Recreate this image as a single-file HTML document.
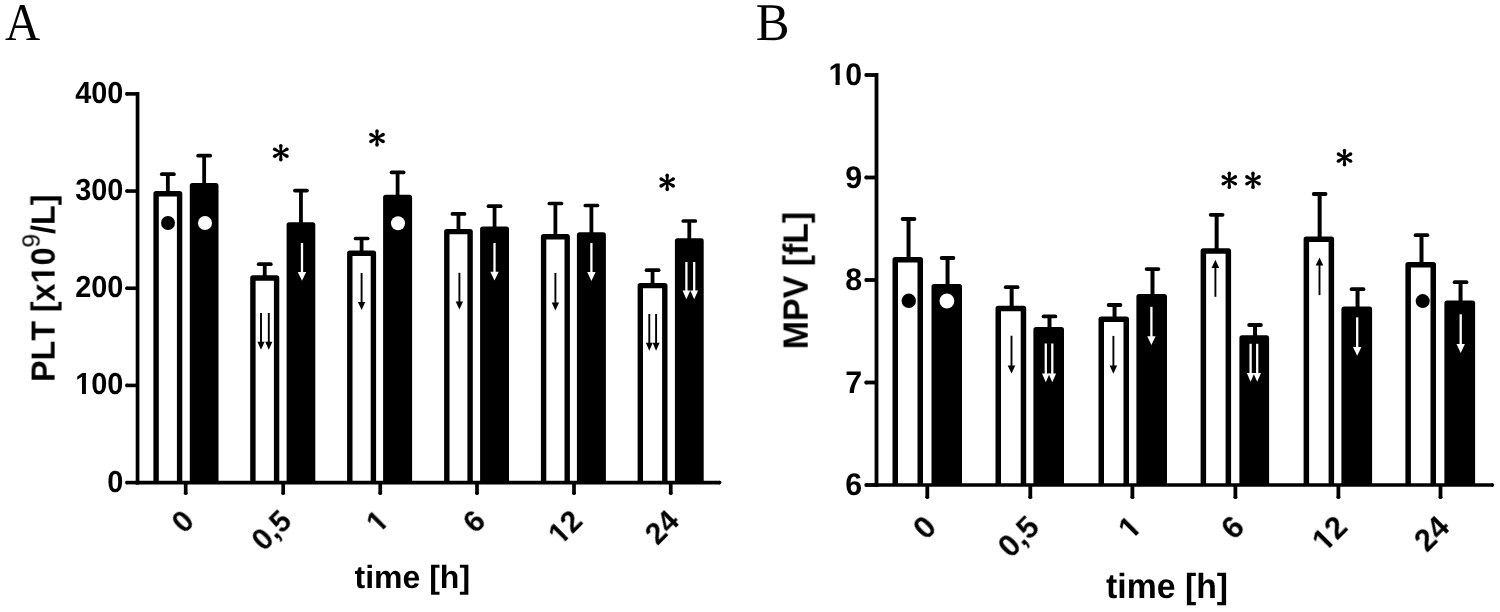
<!DOCTYPE html>
<html><head><meta charset="utf-8"><title>PLT and MPV over time</title><style>
html,body{margin:0;padding:0;background:#fff;width:1500px;height:612px;overflow:hidden}
svg{display:block}
text{text-rendering:geometricPrecision}
svg g{will-change:transform}
</style></head><body>
<svg width="1500" height="612" viewBox="0 0 1500 612">
<rect width="1500" height="612" fill="#fff"/>
<line x1="167.85" y1="174.2" x2="167.85" y2="192" stroke="#000" stroke-width="3.8" stroke-linecap="butt"/>
<line x1="161.8" y1="174.2" x2="173.9" y2="174.2" stroke="#000" stroke-width="3.7" stroke-linecap="round"/>
<path d="M156.1 482.6L156.1 193.7L179.6 193.7L179.6 482.6" fill="#fff" stroke="#000" stroke-width="5.4" stroke-linejoin="round"/>
<line x1="204.15" y1="155.7" x2="204.15" y2="184" stroke="#000" stroke-width="3.8" stroke-linecap="butt"/>
<line x1="198.1" y1="155.7" x2="210.2" y2="155.7" stroke="#000" stroke-width="3.7" stroke-linecap="round"/>
<rect x="189.8" y="183" width="28.7" height="300.6" fill="#000" rx="2.6"/>
<line x1="264.75" y1="264.2" x2="264.75" y2="276.3" stroke="#000" stroke-width="3.8" stroke-linecap="butt"/>
<line x1="258.7" y1="264.2" x2="270.8" y2="264.2" stroke="#000" stroke-width="3.7" stroke-linecap="round"/>
<path d="M252.9 482.6L252.9 278L276.6 278L276.6 482.6" fill="#fff" stroke="#000" stroke-width="5.4" stroke-linejoin="round"/>
<line x1="300.95" y1="190.6" x2="300.95" y2="223.3" stroke="#000" stroke-width="3.8" stroke-linecap="butt"/>
<line x1="294.9" y1="190.6" x2="307" y2="190.6" stroke="#000" stroke-width="3.7" stroke-linecap="round"/>
<rect x="286.6" y="222.3" width="28.7" height="261.3" fill="#000" rx="2.6"/>
<line x1="361.6" y1="238.5" x2="361.6" y2="251.6" stroke="#000" stroke-width="3.8" stroke-linecap="butt"/>
<line x1="355.55" y1="238.5" x2="367.65" y2="238.5" stroke="#000" stroke-width="3.7" stroke-linecap="round"/>
<path d="M349.8 482.6L349.8 253.3L373.4 253.3L373.4 482.6" fill="#fff" stroke="#000" stroke-width="5.4" stroke-linejoin="round"/>
<line x1="397.6" y1="172.3" x2="397.6" y2="195.8" stroke="#000" stroke-width="3.8" stroke-linecap="butt"/>
<line x1="391.55" y1="172.3" x2="403.65" y2="172.3" stroke="#000" stroke-width="3.7" stroke-linecap="round"/>
<rect x="383.1" y="194.8" width="29" height="288.8" fill="#000" rx="2.6"/>
<line x1="458.45" y1="213.9" x2="458.45" y2="229.9" stroke="#000" stroke-width="3.8" stroke-linecap="butt"/>
<line x1="452.4" y1="213.9" x2="464.5" y2="213.9" stroke="#000" stroke-width="3.7" stroke-linecap="round"/>
<path d="M446.8 482.6L446.8 231.6L470.1 231.6L470.1 482.6" fill="#fff" stroke="#000" stroke-width="5.4" stroke-linejoin="round"/>
<line x1="494.55" y1="206.2" x2="494.55" y2="227.5" stroke="#000" stroke-width="3.8" stroke-linecap="butt"/>
<line x1="488.5" y1="206.2" x2="500.6" y2="206.2" stroke="#000" stroke-width="3.7" stroke-linecap="round"/>
<rect x="480.1" y="226.5" width="28.9" height="257.1" fill="#000" rx="2.6"/>
<line x1="555.4" y1="203.5" x2="555.4" y2="235" stroke="#000" stroke-width="3.8" stroke-linecap="butt"/>
<line x1="549.35" y1="203.5" x2="561.45" y2="203.5" stroke="#000" stroke-width="3.7" stroke-linecap="round"/>
<path d="M543.6 482.6L543.6 236.7L567.2 236.7L567.2 482.6" fill="#fff" stroke="#000" stroke-width="5.4" stroke-linejoin="round"/>
<line x1="591.4" y1="205.5" x2="591.4" y2="233.2" stroke="#000" stroke-width="3.8" stroke-linecap="butt"/>
<line x1="585.35" y1="205.5" x2="597.45" y2="205.5" stroke="#000" stroke-width="3.7" stroke-linecap="round"/>
<rect x="576.9" y="232.2" width="29" height="251.4" fill="#000" rx="2.6"/>
<line x1="652.55" y1="270.2" x2="652.55" y2="283.9" stroke="#000" stroke-width="3.8" stroke-linecap="butt"/>
<line x1="646.5" y1="270.2" x2="658.6" y2="270.2" stroke="#000" stroke-width="3.7" stroke-linecap="round"/>
<path d="M640.3 482.6L640.3 285.6L664.8 285.6L664.8 482.6" fill="#fff" stroke="#000" stroke-width="5.4" stroke-linejoin="round"/>
<line x1="689.3" y1="221" x2="689.3" y2="239.3" stroke="#000" stroke-width="3.8" stroke-linecap="butt"/>
<line x1="683.25" y1="221" x2="695.35" y2="221" stroke="#000" stroke-width="3.7" stroke-linecap="round"/>
<rect x="674.9" y="238.3" width="28.8" height="245.3" fill="#000" rx="2.6"/>
<line x1="137.55" y1="92" x2="137.55" y2="484.4" stroke="#000" stroke-width="3.7" stroke-linecap="butt"/>
<line x1="135.7" y1="482.6" x2="720.2" y2="482.6" stroke="#000" stroke-width="3.6" stroke-linecap="butt"/>
<circle cx="719.65" cy="482.6" r="1.8" fill="#000"/>
<line x1="185.7" y1="482.6" x2="185.7" y2="493.8" stroke="#000" stroke-width="3.7" stroke-linecap="butt"/>
<circle cx="185.7" cy="493.15" r="1.85" fill="#000"/>
<line x1="283.2" y1="482.6" x2="283.2" y2="493.8" stroke="#000" stroke-width="3.7" stroke-linecap="butt"/>
<circle cx="283.2" cy="493.15" r="1.85" fill="#000"/>
<line x1="380.25" y1="482.6" x2="380.25" y2="493.8" stroke="#000" stroke-width="3.7" stroke-linecap="butt"/>
<circle cx="380.25" cy="493.15" r="1.85" fill="#000"/>
<line x1="477" y1="482.6" x2="477" y2="493.8" stroke="#000" stroke-width="3.7" stroke-linecap="butt"/>
<circle cx="477" cy="493.15" r="1.85" fill="#000"/>
<line x1="574" y1="482.6" x2="574" y2="493.8" stroke="#000" stroke-width="3.7" stroke-linecap="butt"/>
<circle cx="574" cy="493.15" r="1.85" fill="#000"/>
<line x1="670.75" y1="482.6" x2="670.75" y2="493.8" stroke="#000" stroke-width="3.7" stroke-linecap="butt"/>
<circle cx="670.75" cy="493.15" r="1.85" fill="#000"/>
<line x1="126.5" y1="482.6" x2="137.55" y2="482.6" stroke="#000" stroke-width="3.6" stroke-linecap="butt"/>
<circle cx="126.8" cy="482.6" r="1.8" fill="#000"/>
<g transform="translate(123.4,491.5) scale(0.95,1)"><text x="-16.91" y="0" style="font-family:&quot;Liberation Sans&quot;" font-size="30.4" font-weight="bold">0</text></g>
<line x1="126.5" y1="385.42" x2="137.55" y2="385.42" stroke="#000" stroke-width="3.6" stroke-linecap="butt"/>
<circle cx="126.8" cy="385.42" r="1.8" fill="#000"/>
<g transform="translate(123.4,394.32) scale(0.95,1)"><text x="-50.72 -33.81 -16.91" y="0" style="font-family:&quot;Liberation Sans&quot;" font-size="30.4" font-weight="bold">100</text><rect x="-50.28" y="-4.3" width="6.65" height="6.09" fill="#fff"/><rect x="-39.45" y="-4.3" width="5.79" height="6.09" fill="#fff"/><rect x="-43.63" y="0.15" width="4.17" height="1.63" fill="#fff"/></g>
<line x1="126.5" y1="288.24" x2="137.55" y2="288.24" stroke="#000" stroke-width="3.6" stroke-linecap="butt"/>
<circle cx="126.8" cy="288.24" r="1.8" fill="#000"/>
<g transform="translate(123.4,297.14) scale(0.95,1)"><text x="-50.72 -33.81 -16.91" y="0" style="font-family:&quot;Liberation Sans&quot;" font-size="30.4" font-weight="bold">200</text></g>
<line x1="126.5" y1="191.06" x2="137.55" y2="191.06" stroke="#000" stroke-width="3.6" stroke-linecap="butt"/>
<circle cx="126.8" cy="191.06" r="1.8" fill="#000"/>
<g transform="translate(123.4,199.96) scale(0.95,1)"><text x="-50.72 -33.81 -16.91" y="0" style="font-family:&quot;Liberation Sans&quot;" font-size="30.4" font-weight="bold">300</text></g>
<line x1="126.5" y1="93.88" x2="137.55" y2="93.88" stroke="#000" stroke-width="3.6" stroke-linecap="butt"/>
<circle cx="126.8" cy="93.88" r="1.8" fill="#000"/>
<g transform="translate(123.4,102.78) scale(0.95,1)"><text x="-50.72 -33.81 -16.91" y="0" style="font-family:&quot;Liberation Sans&quot;" font-size="30.4" font-weight="bold">400</text></g>
<circle cx="168" cy="223" r="7" fill="#000"/>
<circle cx="205" cy="223" r="7" fill="#fff"/>
<circle cx="398" cy="223.3" r="7" fill="#fff"/>
<line x1="261" y1="313" x2="261" y2="342.2" stroke="#000" stroke-width="1.9" stroke-linecap="butt"/>
<path d="M257.4 341.7L264.6 341.7L261 349.7Z" fill="#000"/>
<line x1="268.8" y1="313" x2="268.8" y2="342.2" stroke="#000" stroke-width="1.9" stroke-linecap="butt"/>
<path d="M265.2 341.7L272.4 341.7L268.8 349.7Z" fill="#000"/>
<line x1="302" y1="243" x2="302" y2="272.5" stroke="#fff" stroke-width="2.3" stroke-linecap="butt"/>
<path d="M297.8 272L306.2 272L302 280.8Z" fill="#fff"/>
<line x1="361.6" y1="273" x2="361.6" y2="302.5" stroke="#000" stroke-width="1.9" stroke-linecap="butt"/>
<path d="M357.9 302L365.3 302L361.6 310Z" fill="#000"/>
<line x1="459.4" y1="272.8" x2="459.4" y2="302.1" stroke="#000" stroke-width="1.9" stroke-linecap="butt"/>
<path d="M455.7 301.6L463.1 301.6L459.4 309.6Z" fill="#000"/>
<line x1="494.5" y1="243" x2="494.5" y2="272.2" stroke="#fff" stroke-width="2.3" stroke-linecap="butt"/>
<path d="M490.3 271.7L498.7 271.7L494.5 280.5Z" fill="#fff"/>
<line x1="555.4" y1="273" x2="555.4" y2="302.9" stroke="#000" stroke-width="1.9" stroke-linecap="butt"/>
<path d="M551.7 302.4L559.1 302.4L555.4 310.4Z" fill="#000"/>
<line x1="591.4" y1="243" x2="591.4" y2="272.6" stroke="#fff" stroke-width="2.3" stroke-linecap="butt"/>
<path d="M587.2 272.1L595.6 272.1L591.4 280.9Z" fill="#fff"/>
<line x1="649.3" y1="314" x2="649.3" y2="343.3" stroke="#000" stroke-width="1.9" stroke-linecap="butt"/>
<path d="M645.8 342.8L652.8 342.8L649.3 350.8Z" fill="#000"/>
<line x1="656.1" y1="314" x2="656.1" y2="343.3" stroke="#000" stroke-width="1.9" stroke-linecap="butt"/>
<path d="M652.6 342.8L659.6 342.8L656.1 350.8Z" fill="#000"/>
<line x1="686.4" y1="262" x2="686.4" y2="291.1" stroke="#fff" stroke-width="2.3" stroke-linecap="butt"/>
<path d="M682.5 290.6L690.3 290.6L686.4 299.2Z" fill="#fff"/>
<line x1="694.2" y1="262" x2="694.2" y2="291.1" stroke="#fff" stroke-width="2.3" stroke-linecap="butt"/>
<path d="M690.3 290.6L698.1 290.6L694.2 299.2Z" fill="#fff"/>
<g fill="#000"><path d="M281.75 152.7L282.5 145.6L279.1 145.6L279.85 152.7ZM281.28 153.52L287.8 150.62L286.1 147.68L280.32 151.88ZM280.32 153.52L286.1 157.72L287.8 154.78L281.28 151.88ZM281.28 151.88L275.5 147.68L273.8 150.62L280.32 153.52ZM280.32 151.88L273.8 154.78L275.5 157.72L281.28 153.52ZM279.85 152.7L279.1 159.8L282.5 159.8L281.75 152.7Z"/><circle cx="280.8" cy="145.6" r="1.7"/><circle cx="286.95" cy="149.15" r="1.7"/><circle cx="286.95" cy="156.25" r="1.7"/><circle cx="274.65" cy="149.15" r="1.7"/><circle cx="274.65" cy="156.25" r="1.7"/><circle cx="280.8" cy="159.8" r="1.7"/></g>
<g fill="#000"><path d="M377.95 138L378.7 130.9L375.3 130.9L376.05 138ZM377.48 138.82L384 135.92L382.3 132.98L376.52 137.18ZM376.52 138.82L382.3 143.02L384 140.08L377.48 137.18ZM377.48 137.18L371.7 132.98L370 135.92L376.52 138.82ZM376.52 137.18L370 140.08L371.7 143.02L377.48 138.82ZM376.05 138L375.3 145.1L378.7 145.1L377.95 138Z"/><circle cx="377" cy="130.9" r="1.7"/><circle cx="383.15" cy="134.45" r="1.7"/><circle cx="383.15" cy="141.55" r="1.7"/><circle cx="370.85" cy="134.45" r="1.7"/><circle cx="370.85" cy="141.55" r="1.7"/><circle cx="377" cy="145.1" r="1.7"/></g>
<g fill="#000"><path d="M668.15 182.4L668.9 175.3L665.5 175.3L666.25 182.4ZM667.68 183.22L674.2 180.32L672.5 177.38L666.73 181.58ZM666.73 183.22L672.5 187.42L674.2 184.48L667.68 181.58ZM667.68 181.58L661.9 177.38L660.2 180.32L666.73 183.22ZM666.73 181.58L660.2 184.48L661.9 187.42L667.68 183.22ZM666.25 182.4L665.5 189.5L668.9 189.5L668.15 182.4Z"/><circle cx="667.2" cy="175.3" r="1.7"/><circle cx="673.35" cy="178.85" r="1.7"/><circle cx="673.35" cy="185.95" r="1.7"/><circle cx="661.05" cy="178.85" r="1.7"/><circle cx="661.05" cy="185.95" r="1.7"/><circle cx="667.2" cy="189.5" r="1.7"/></g>
<g transform="translate(181,507.8) rotate(-45) translate(0,21)"><text x="-16.68" y="0" style="font-family:&quot;Liberation Sans&quot;" font-size="30" font-weight="bold">0</text></g>
<g transform="translate(278.5,507.8) rotate(-45) translate(0,21)"><text x="-41.7 -25.02 -16.68" y="0" style="font-family:&quot;Liberation Sans&quot;" font-size="30" font-weight="bold">0,5</text></g>
<g transform="translate(375.55,507.8) rotate(-45) translate(0,21)"><text x="-16.68" y="0" style="font-family:&quot;Liberation Sans&quot;" font-size="30" font-weight="bold">1</text><rect x="-16.25" y="-4.25" width="6.56" height="6.01" fill="#fff"/><rect x="-5.57" y="-4.25" width="5.71" height="6.01" fill="#fff"/><rect x="-9.68" y="0.15" width="4.12" height="1.61" fill="#fff"/></g>
<g transform="translate(472.3,507.8) rotate(-45) translate(0,21)"><text x="-16.68" y="0" style="font-family:&quot;Liberation Sans&quot;" font-size="30" font-weight="bold">6</text></g>
<g transform="translate(569.3,507.8) rotate(-45) translate(0,21)"><text x="-33.37 -16.68" y="0" style="font-family:&quot;Liberation Sans&quot;" font-size="30" font-weight="bold">12</text><rect x="-32.93" y="-4.25" width="6.56" height="6.01" fill="#fff"/><rect x="-22.25" y="-4.25" width="5.71" height="6.01" fill="#fff"/><rect x="-26.37" y="0.15" width="4.12" height="1.61" fill="#fff"/></g>
<g transform="translate(666.05,507.8) rotate(-45) translate(0,21)"><text x="-33.37 -16.68" y="0" style="font-family:&quot;Liberation Sans&quot;" font-size="30" font-weight="bold">24</text></g>
<g transform="translate(354.5,588.1)"><text x="0 10.66 19.55 48 65.8 74.69 85.34 104.89" y="0" style="font-family:&quot;Liberation Sans&quot;" font-size="32" font-weight="bold">time [h]</text></g>
<g transform="translate(54.6,381.9) rotate(-90) translate(0,0) scale(0.96,1)"><text x="0 22.41 42.94 63.46 72.79 83.98 102.67 121.36" y="0" style="font-family:&quot;Liberation Sans&quot;" font-size="33.6" font-weight="bold">PLT [x10</text><rect x="103.16" y="-4.76" width="7.35" height="6.73" fill="#fff"/><rect x="115.12" y="-4.76" width="6.4" height="6.73" fill="#fff"/><rect x="110.51" y="0.16" width="4.61" height="1.8" fill="#fff"/></g>
<g transform="translate(54.6,381.9) rotate(-90) translate(134.3,-15.1)"><text x="0" y="0" style="font-family:&quot;Liberation Sans&quot;" font-size="24.7" font-weight="normal">9</text></g>
<g transform="translate(54.6,381.9) rotate(-90) translate(147.9,0) scale(0.96,1)"><text x="0 9.34 29.86" y="0" style="font-family:&quot;Liberation Sans&quot;" font-size="33.6" font-weight="bold">/L]</text></g>
<g transform="translate(4.9,39.7) scale(0.92,1)"><text x="0" y="0" style="font-family:&quot;Liberation Serif&quot;" font-size="53" font-weight="normal">A</text></g>
<g transform="translate(755.7,39.5) scale(0.955,1)"><text x="0" y="0" style="font-family:&quot;Liberation Serif&quot;" font-size="53" font-weight="normal">B</text></g>
<line x1="908.55" y1="219" x2="908.55" y2="257.9" stroke="#000" stroke-width="4" stroke-linecap="butt"/>
<line x1="902.65" y1="219" x2="914.45" y2="219" stroke="#000" stroke-width="3.8" stroke-linecap="round"/>
<path d="M895.25 485L895.25 259.65L920.25 259.65L920.25 485" fill="#fff" stroke="#000" stroke-width="5.5" stroke-linejoin="round"/>
<line x1="947.55" y1="258" x2="947.55" y2="284.9" stroke="#000" stroke-width="4" stroke-linecap="butt"/>
<line x1="941.65" y1="258" x2="953.45" y2="258" stroke="#000" stroke-width="3.8" stroke-linecap="round"/>
<rect x="931.5" y="283.9" width="30.5" height="202.1" fill="#000" rx="2.6"/>
<line x1="1011.65" y1="287.2" x2="1011.65" y2="306.7" stroke="#000" stroke-width="4" stroke-linecap="butt"/>
<line x1="1005.75" y1="287.2" x2="1017.55" y2="287.2" stroke="#000" stroke-width="3.8" stroke-linecap="round"/>
<path d="M998.25 485L998.25 308.45L1023.45 308.45L1023.45 485" fill="#fff" stroke="#000" stroke-width="5.5" stroke-linejoin="round"/>
<line x1="1049.5" y1="316.4" x2="1049.5" y2="327.9" stroke="#000" stroke-width="4" stroke-linecap="butt"/>
<line x1="1043.6" y1="316.4" x2="1055.4" y2="316.4" stroke="#000" stroke-width="3.8" stroke-linecap="round"/>
<rect x="1033.4" y="326.9" width="30.6" height="159.1" fill="#000" rx="2.6"/>
<line x1="1114.55" y1="305" x2="1114.55" y2="317.4" stroke="#000" stroke-width="4" stroke-linecap="butt"/>
<line x1="1108.65" y1="305" x2="1120.45" y2="305" stroke="#000" stroke-width="3.8" stroke-linecap="round"/>
<path d="M1101.25 485L1101.25 319.15L1126.25 319.15L1126.25 485" fill="#fff" stroke="#000" stroke-width="5.5" stroke-linejoin="round"/>
<line x1="1152.5" y1="269.1" x2="1152.5" y2="295" stroke="#000" stroke-width="4" stroke-linecap="butt"/>
<line x1="1146.6" y1="269.1" x2="1158.4" y2="269.1" stroke="#000" stroke-width="3.8" stroke-linecap="round"/>
<rect x="1136.4" y="294" width="30.6" height="192" fill="#000" rx="2.6"/>
<line x1="1216.65" y1="214.8" x2="1216.65" y2="249.3" stroke="#000" stroke-width="4" stroke-linecap="butt"/>
<line x1="1210.75" y1="214.8" x2="1222.55" y2="214.8" stroke="#000" stroke-width="3.8" stroke-linecap="round"/>
<path d="M1203.35 485L1203.35 251.05L1228.35 251.05L1228.35 485" fill="#fff" stroke="#000" stroke-width="5.5" stroke-linejoin="round"/>
<line x1="1255.05" y1="325" x2="1255.05" y2="336.3" stroke="#000" stroke-width="4" stroke-linecap="butt"/>
<line x1="1249.15" y1="325" x2="1260.95" y2="325" stroke="#000" stroke-width="3.8" stroke-linecap="round"/>
<rect x="1239.4" y="335.3" width="29.7" height="150.7" fill="#000" rx="2.6"/>
<line x1="1319.65" y1="194" x2="1319.65" y2="237.4" stroke="#000" stroke-width="4" stroke-linecap="butt"/>
<line x1="1313.75" y1="194" x2="1325.55" y2="194" stroke="#000" stroke-width="3.8" stroke-linecap="round"/>
<path d="M1306.35 485L1306.35 239.15L1331.35 239.15L1331.35 485" fill="#fff" stroke="#000" stroke-width="5.5" stroke-linejoin="round"/>
<line x1="1357.55" y1="289.2" x2="1357.55" y2="307.6" stroke="#000" stroke-width="4" stroke-linecap="butt"/>
<line x1="1351.65" y1="289.2" x2="1363.45" y2="289.2" stroke="#000" stroke-width="3.8" stroke-linecap="round"/>
<rect x="1341.4" y="306.6" width="30.7" height="179.4" fill="#000" rx="2.6"/>
<line x1="1421.5" y1="235.2" x2="1421.5" y2="262.9" stroke="#000" stroke-width="4" stroke-linecap="butt"/>
<line x1="1415.6" y1="235.2" x2="1427.4" y2="235.2" stroke="#000" stroke-width="3.8" stroke-linecap="round"/>
<path d="M1408.15 485L1408.15 264.65L1433.25 264.65L1433.25 485" fill="#fff" stroke="#000" stroke-width="5.5" stroke-linejoin="round"/>
<line x1="1460.55" y1="282.2" x2="1460.55" y2="301.6" stroke="#000" stroke-width="4" stroke-linecap="butt"/>
<line x1="1454.65" y1="282.2" x2="1466.45" y2="282.2" stroke="#000" stroke-width="3.8" stroke-linecap="round"/>
<rect x="1444.4" y="300.6" width="30.7" height="185.4" fill="#000" rx="2.6"/>
<line x1="876.5" y1="73.1" x2="876.5" y2="486.8" stroke="#000" stroke-width="3.8" stroke-linecap="butt"/>
<line x1="874.6" y1="485" x2="1493" y2="485" stroke="#000" stroke-width="3.6" stroke-linecap="butt"/>
<circle cx="1492.45" cy="485" r="1.8" fill="#000"/>
<line x1="927.3" y1="485" x2="927.3" y2="497.8" stroke="#000" stroke-width="3.8" stroke-linecap="butt"/>
<circle cx="927.3" cy="497.15" r="1.9" fill="#000"/>
<line x1="1030.3" y1="485" x2="1030.3" y2="497.8" stroke="#000" stroke-width="3.8" stroke-linecap="butt"/>
<circle cx="1030.3" cy="497.15" r="1.9" fill="#000"/>
<line x1="1132.4" y1="485" x2="1132.4" y2="497.8" stroke="#000" stroke-width="3.8" stroke-linecap="butt"/>
<circle cx="1132.4" cy="497.15" r="1.9" fill="#000"/>
<line x1="1235.4" y1="485" x2="1235.4" y2="497.8" stroke="#000" stroke-width="3.8" stroke-linecap="butt"/>
<circle cx="1235.4" cy="497.15" r="1.9" fill="#000"/>
<line x1="1338.4" y1="485" x2="1338.4" y2="497.8" stroke="#000" stroke-width="3.8" stroke-linecap="butt"/>
<circle cx="1338.4" cy="497.15" r="1.9" fill="#000"/>
<line x1="1440.5" y1="485" x2="1440.5" y2="497.8" stroke="#000" stroke-width="3.8" stroke-linecap="butt"/>
<circle cx="1440.5" cy="497.15" r="1.9" fill="#000"/>
<line x1="865.8" y1="485" x2="876.5" y2="485" stroke="#000" stroke-width="3.8" stroke-linecap="butt"/>
<circle cx="866.2" cy="485" r="1.9" fill="#000"/>
<g transform="translate(862.2,495) scale(0.97,1)"><text x="-17.41" y="0" style="font-family:&quot;Liberation Sans&quot;" font-size="31.3" font-weight="bold">6</text></g>
<line x1="865.8" y1="382.5" x2="876.5" y2="382.5" stroke="#000" stroke-width="3.8" stroke-linecap="butt"/>
<circle cx="866.2" cy="382.5" r="1.9" fill="#000"/>
<g transform="translate(862.2,392.5) scale(0.97,1)"><text x="-17.41" y="0" style="font-family:&quot;Liberation Sans&quot;" font-size="31.3" font-weight="bold">7</text></g>
<line x1="865.8" y1="280" x2="876.5" y2="280" stroke="#000" stroke-width="3.8" stroke-linecap="butt"/>
<circle cx="866.2" cy="280" r="1.9" fill="#000"/>
<g transform="translate(862.2,290) scale(0.97,1)"><text x="-17.41" y="0" style="font-family:&quot;Liberation Sans&quot;" font-size="31.3" font-weight="bold">8</text></g>
<line x1="865.8" y1="177.5" x2="876.5" y2="177.5" stroke="#000" stroke-width="3.8" stroke-linecap="butt"/>
<circle cx="866.2" cy="177.5" r="1.9" fill="#000"/>
<g transform="translate(862.2,187.5) scale(0.97,1)"><text x="-17.41" y="0" style="font-family:&quot;Liberation Sans&quot;" font-size="31.3" font-weight="bold">9</text></g>
<line x1="865.8" y1="75" x2="876.5" y2="75" stroke="#000" stroke-width="3.8" stroke-linecap="butt"/>
<circle cx="866.2" cy="75" r="1.9" fill="#000"/>
<g transform="translate(862.2,85) scale(0.97,1)"><text x="-34.82 -17.41" y="0" style="font-family:&quot;Liberation Sans&quot;" font-size="31.3" font-weight="bold">10</text><rect x="-34.36" y="-4.43" width="6.85" height="6.27" fill="#fff"/><rect x="-23.22" y="-4.43" width="5.96" height="6.27" fill="#fff"/><rect x="-27.51" y="0.15" width="4.29" height="1.68" fill="#fff"/></g>
<circle cx="908.8" cy="300.8" r="7.2" fill="#000"/>
<circle cx="946.9" cy="301" r="7.4" fill="#fff"/>
<circle cx="1422.7" cy="301.1" r="7" fill="#000"/>
<line x1="1011.5" y1="335.7" x2="1011.5" y2="365.9" stroke="#000" stroke-width="1.9" stroke-linecap="butt"/>
<path d="M1007.7 365.4L1015.3 365.4L1011.5 373.6Z" fill="#000"/>
<line x1="1045.8" y1="343.5" x2="1045.8" y2="373.9" stroke="#fff" stroke-width="2.3" stroke-linecap="butt"/>
<path d="M1042 373.4L1049.6 373.4L1045.8 382.2Z" fill="#fff"/>
<line x1="1052.3" y1="343.5" x2="1052.3" y2="373.9" stroke="#fff" stroke-width="2.3" stroke-linecap="butt"/>
<path d="M1048.5 373.4L1056.1 373.4L1052.3 382.2Z" fill="#fff"/>
<line x1="1113.4" y1="335.9" x2="1113.4" y2="366.1" stroke="#000" stroke-width="1.9" stroke-linecap="butt"/>
<path d="M1109.6 365.6L1117.2 365.6L1113.4 373.8Z" fill="#000"/>
<line x1="1151.4" y1="306.8" x2="1151.4" y2="336.8" stroke="#fff" stroke-width="2.3" stroke-linecap="butt"/>
<path d="M1147.2 336.3L1155.6 336.3L1151.4 345.1Z" fill="#fff"/>
<line x1="1215.4" y1="267.4" x2="1215.4" y2="296.8" stroke="#000" stroke-width="1.9" stroke-linecap="butt"/>
<path d="M1211.6 267.9L1219.2 267.9L1215.4 259.7Z" fill="#000"/>
<line x1="1250.6" y1="343.8" x2="1250.6" y2="373.4" stroke="#fff" stroke-width="2.3" stroke-linecap="butt"/>
<path d="M1246.8 372.9L1254.4 372.9L1250.6 381.7Z" fill="#fff"/>
<line x1="1257.2" y1="343.8" x2="1257.2" y2="373.4" stroke="#fff" stroke-width="2.3" stroke-linecap="butt"/>
<path d="M1253.4 372.9L1261 372.9L1257.2 381.7Z" fill="#fff"/>
<line x1="1319.5" y1="265.1" x2="1319.5" y2="295.1" stroke="#000" stroke-width="1.9" stroke-linecap="butt"/>
<path d="M1315.7 265.6L1323.3 265.6L1319.5 257.4Z" fill="#000"/>
<line x1="1357.2" y1="317.3" x2="1357.2" y2="347.5" stroke="#fff" stroke-width="2.3" stroke-linecap="butt"/>
<path d="M1353 347L1361.4 347L1357.2 355.8Z" fill="#fff"/>
<line x1="1460.7" y1="314.3" x2="1460.7" y2="344.6" stroke="#fff" stroke-width="2.3" stroke-linecap="butt"/>
<path d="M1456.5 344.1L1464.9 344.1L1460.7 352.9Z" fill="#fff"/>
<g fill="#000"><path d="M1230.25 180.3L1231 173.2L1227.6 173.2L1228.35 180.3ZM1229.77 181.12L1236.3 178.22L1234.6 175.28L1228.83 179.48ZM1228.83 181.12L1234.6 185.32L1236.3 182.38L1229.77 179.48ZM1229.77 179.48L1224 175.28L1222.3 178.22L1228.83 181.12ZM1228.83 179.48L1222.3 182.38L1224 185.32L1229.77 181.12ZM1228.35 180.3L1227.6 187.4L1231 187.4L1230.25 180.3Z"/><circle cx="1229.3" cy="173.2" r="1.7"/><circle cx="1235.45" cy="176.75" r="1.7"/><circle cx="1235.45" cy="183.85" r="1.7"/><circle cx="1223.15" cy="176.75" r="1.7"/><circle cx="1223.15" cy="183.85" r="1.7"/><circle cx="1229.3" cy="187.4" r="1.7"/></g>
<g fill="#000"><path d="M1253.95 180.3L1254.7 173.2L1251.3 173.2L1252.05 180.3ZM1253.47 181.12L1260 178.22L1258.3 175.28L1252.53 179.48ZM1252.53 181.12L1258.3 185.32L1260 182.38L1253.47 179.48ZM1253.47 179.48L1247.7 175.28L1246 178.22L1252.53 181.12ZM1252.53 179.48L1246 182.38L1247.7 185.32L1253.47 181.12ZM1252.05 180.3L1251.3 187.4L1254.7 187.4L1253.95 180.3Z"/><circle cx="1253" cy="173.2" r="1.7"/><circle cx="1259.15" cy="176.75" r="1.7"/><circle cx="1259.15" cy="183.85" r="1.7"/><circle cx="1246.85" cy="176.75" r="1.7"/><circle cx="1246.85" cy="183.85" r="1.7"/><circle cx="1253" cy="187.4" r="1.7"/></g>
<g fill="#000"><path d="M1345.45 157.6L1346.2 150.5L1342.8 150.5L1343.55 157.6ZM1344.97 158.42L1351.5 155.52L1349.8 152.58L1344.03 156.78ZM1344.03 158.42L1349.8 162.62L1351.5 159.68L1344.97 156.78ZM1344.97 156.78L1339.2 152.58L1337.5 155.52L1344.03 158.42ZM1344.03 156.78L1337.5 159.68L1339.2 162.62L1344.97 158.42ZM1343.55 157.6L1342.8 164.7L1346.2 164.7L1345.45 157.6Z"/><circle cx="1344.5" cy="150.5" r="1.7"/><circle cx="1350.65" cy="154.05" r="1.7"/><circle cx="1350.65" cy="161.15" r="1.7"/><circle cx="1338.35" cy="154.05" r="1.7"/><circle cx="1338.35" cy="161.15" r="1.7"/><circle cx="1344.5" cy="164.7" r="1.7"/></g>
<g transform="translate(922.5,513.2) rotate(-45) translate(0,22)"><text x="-17.24" y="0" style="font-family:&quot;Liberation Sans&quot;" font-size="31" font-weight="bold">0</text></g>
<g transform="translate(1025.5,513.2) rotate(-45) translate(0,22)"><text x="-43.09 -25.85 -17.24" y="0" style="font-family:&quot;Liberation Sans&quot;" font-size="31" font-weight="bold">0,5</text></g>
<g transform="translate(1127.6,513.2) rotate(-45) translate(0,22)"><text x="-17.24" y="0" style="font-family:&quot;Liberation Sans&quot;" font-size="31" font-weight="bold">1</text><rect x="-16.79" y="-4.39" width="6.78" height="6.21" fill="#fff"/><rect x="-5.75" y="-4.39" width="5.9" height="6.21" fill="#fff"/><rect x="-10.01" y="0.15" width="4.25" height="1.67" fill="#fff"/></g>
<g transform="translate(1230.6,513.2) rotate(-45) translate(0,22)"><text x="-17.24" y="0" style="font-family:&quot;Liberation Sans&quot;" font-size="31" font-weight="bold">6</text></g>
<g transform="translate(1333.6,513.2) rotate(-45) translate(0,22)"><text x="-34.48 -17.24" y="0" style="font-family:&quot;Liberation Sans&quot;" font-size="31" font-weight="bold">12</text><rect x="-34.03" y="-4.39" width="6.78" height="6.21" fill="#fff"/><rect x="-22.99" y="-4.39" width="5.9" height="6.21" fill="#fff"/><rect x="-27.25" y="0.15" width="4.25" height="1.67" fill="#fff"/></g>
<g transform="translate(1435.7,513.2) rotate(-45) translate(0,22)"><text x="-34.48 -17.24" y="0" style="font-family:&quot;Liberation Sans&quot;" font-size="31" font-weight="bold">24</text></g>
<g transform="translate(1106.1,598.2) scale(0.965,1)"><text x="0 11.66 21.38 52.5 71.97 81.69 93.34 114.72" y="0" style="font-family:&quot;Liberation Sans&quot;" font-size="35" font-weight="bold">time [h]</text></g>
<g transform="translate(807.7,349.3) rotate(-90) translate(0,0) scale(0.964,1)"><text x="0 29.32 52.8 76.28 86.06 97.78 109.5 131" y="0" style="font-family:&quot;Liberation Sans&quot;" font-size="35.2" font-weight="bold">MPV [fL]</text></g>
</svg>
</body></html>
